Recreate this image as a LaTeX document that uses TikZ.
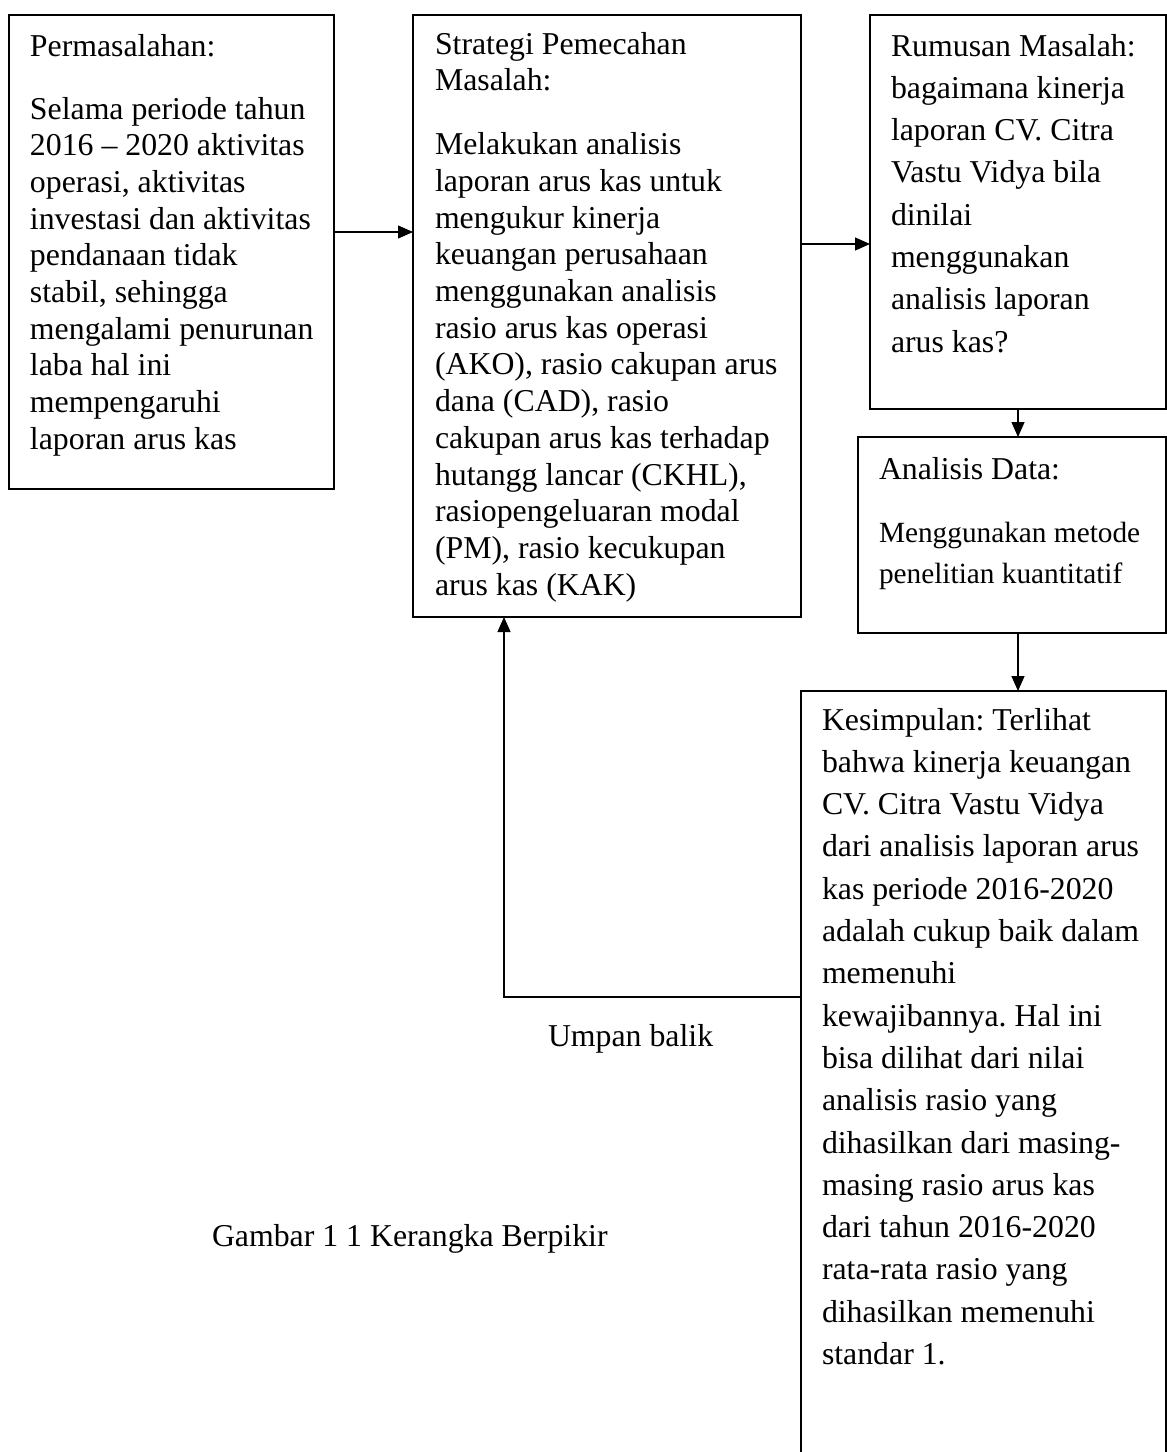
\documentclass[tikz,border=0pt]{standalone}
\usepackage{fontspec}
\setmainfont{Liberation Serif}
\usetikzlibrary{arrows.meta}
\newcommand\fsA{\fontsize{31.8pt}{36.7pt}\selectfont}
\newcommand\fsB{\fontsize{31.8pt}{42.3pt}\selectfont}
\newcommand\fsC{\fontsize{29.3pt}{41pt}\selectfont}
\hyphenpenalty=10000
\frenchspacing
\begin{document}
\begin{tikzpicture}[x=1pt,y=-1pt,
  box/.style={draw, line width=1.7pt, inner sep=0pt, outer sep=0pt, anchor=north west},
  txt/.style={inner sep=0pt, outer sep=0pt, anchor=base west, align=left},
  arr/.style={line width=1.3pt, -{Triangle[length=15pt,width=13pt]}}]
\useasboundingbox (0,0) rectangle (1167,1452);
\clip (0,0) rectangle (1167,1452);

% boxes
\node[box, minimum width=325pt, minimum height=474pt] (box1) at (9,15) {};
\node[box, minimum width=388pt, minimum height=602pt] (box2) at (413,15) {};
\node[box, minimum width=296pt, minimum height=394pt] (box3) at (870,15) {};
\node[box, minimum width=308pt, minimum height=196pt] (box4) at (858,437) {};
\node[box, minimum width=365pt, minimum height=790pt] (box5) at (801,691) {};

% texts
\node[txt] (t1) at (30,56) {\fsA\parbox[t]{300pt}{Permasalahan:\\[26.3pt]
Selama periode tahun\\
2016 – 2020 aktivitas\\
operasi, aktivitas\\
investasi dan aktivitas\\
pendanaan tidak\\
stabil, sehingga\\
mengalami penurunan\\
laba hal ini\\
mempengaruhi\\
laporan arus kas}};

\node[txt] (t2) at (435,54) {\fsA\parbox[t]{362pt}{Strategi Pemecahan\\
Masalah:\\[27.3pt]
Melakukan analisis\\
laporan arus kas untuk\\
mengukur kinerja\\
keuangan perusahaan\\
menggunakan analisis\\
rasio arus kas operasi\\
(AKO), rasio cakupan arus\\
dana (CAD), rasio\\
cakupan arus kas terhadap\\
hutangg lancar (CKHL),\\
rasiopengeluaran modal\\
(PM), rasio kecukupan\\
arus kas (KAK)}};

\node[txt] (t3) at (891,56) {\fsB\parbox[t]{272pt}{Rumusan Masalah:\\
bagaimana kinerja\\
laporan CV. Citra\\
Vastu Vidya bila\\
dinilai\\
menggunakan\\
analisis laporan\\
arus kas?}};

\node[txt] (t4h) at (879,479) {\fsA Analisis Data:};
\node[txt] (t4) at (879,542) {\fsC\parbox[t]{284pt}{Menggunakan metode\\
penelitian kuantitatif}};

\node[txt] (t5) at (822,730) {\fsB\parbox[t]{340pt}{Kesimpulan: Terlihat\\
bahwa kinerja keuangan\\
CV. Citra Vastu Vidya\\
dari analisis laporan arus\\
kas periode 2016-2020\\
adalah cukup baik dalam\\
memenuhi\\
kewajibannya. Hal ini\\
bisa dilihat dari nilai\\
analisis rasio yang\\
dihasilkan dari masing-\\
masing rasio arus kas\\
dari tahun 2016-2020\\
rata-rata rasio yang\\
dihasilkan memenuhi\\
standar 1.}};

\node[txt] (fbl) at (548,1046) {\fsA Umpan balik};
\node[txt] (cap) at (212,1246) {\fsA Gambar 1 1 Kerangka Berpikir};

% connectors
\coordinate (fbturn) at (504,997);
\draw[arr] ([yshift=20pt]box1.east) -- ([yshift=84pt]box2.west);
\draw[arr] ([yshift=72pt]box2.east) -- ([yshift=-32pt]box3.west);
\draw[arr] (box3.south) -- (box3.south |- box4.north);
\draw[arr] (box4.south -| box3.south) -- (box5.north -| box3.south);
\draw[arr] (box5.west |- fbturn) -- (fbturn) -- (box2.south -| fbturn);
\end{tikzpicture}
\end{document}
